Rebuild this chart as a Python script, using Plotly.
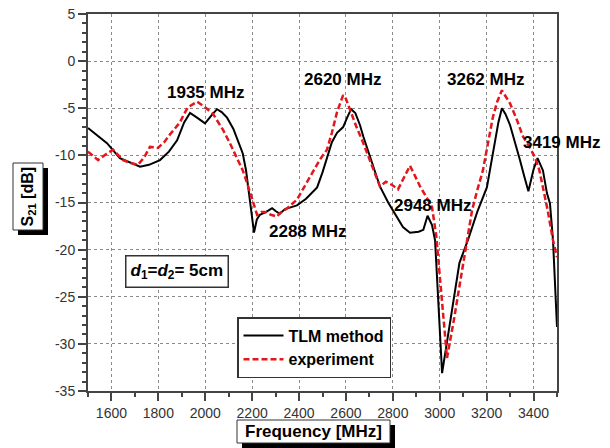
import plotly.graph_objects as go

# ---------------- data ----------------
tlm_freq = [1500, 1540, 1581, 1636, 1680, 1722, 1760, 1807, 1845, 1880, 1910, 1935,
            1965, 1999, 2025, 2050, 2070, 2093, 2120, 2140, 2160, 2174, 2191, 2208,
            2220, 2233, 2260, 2285, 2300, 2318, 2340, 2391, 2430, 2477, 2500, 2519,
            2540, 2562, 2588, 2605, 2622, 2640, 2660, 2674, 2703, 2745, 2780, 2817,
            2843, 2873, 2910, 2930, 2948, 2967, 2980, 3010, 3084, 3120, 3160, 3201,
            3227, 3250, 3265, 3280, 3300, 3320, 3342, 3360, 3378, 3400, 3417, 3440,
            3457, 3470, 3483, 3500]
tlm_s21 = [-7.1, -7.9, -8.7, -10.3, -10.8, -11.2, -11.0, -10.5, -9.6, -8.4, -6.5, -5.5,
           -6.0, -6.6, -5.8, -5.1, -5.4, -6.0, -7.2, -8.4, -9.8, -11.6, -14.7, -18.2,
           -16.8, -16.3, -16.0, -15.6, -15.9, -16.2, -15.7, -15.3, -14.6, -13.4, -11.8, -10.2,
           -8.6, -7.6, -7.0, -6.0, -5.1, -5.5, -6.8, -8.0, -10.2, -13.3, -15.0, -16.6,
           -17.6, -18.2, -18.1, -17.9, -16.4, -17.4, -19.0, -33.1, -21.4, -19.0, -16.0, -13.4,
           -9.8, -6.5, -5.0, -5.6, -6.8, -8.5, -10.5, -12.2, -13.8, -11.5, -10.3, -11.6,
           -14.0, -15.1, -19.0, -28.2]

exp_freq = [1500, 1520, 1543, 1575, 1607, 1630, 1650, 1680, 1713, 1740, 1764, 1798,
            1825, 1849, 1870, 1892, 1910, 1926, 1965, 1999, 2033, 2055, 2076, 2105,
            2135, 2160, 2178, 2199, 2221, 2240, 2255, 2280, 2306, 2319, 2350, 2391,
            2430, 2459, 2490, 2519, 2540, 2562, 2588, 2600, 2617, 2645, 2674, 2710,
            2745, 2770, 2794, 2822, 2845, 2873, 2895, 2916, 2945, 2967, 2985, 3031,
            3060, 3086, 3116, 3138, 3160, 3184, 3205, 3227, 3245, 3265, 3280, 3300,
            3330, 3355, 3380, 3406, 3425, 3440, 3460, 3483, 3500]
exp_s21 = [-9.6, -10.0, -10.5, -9.9, -9.4, -10.0, -10.5, -10.8, -11.0, -10.2, -9.1, -9.2,
           -8.6, -7.8, -7.2, -6.5, -5.6, -4.9, -4.3, -4.9, -5.6, -6.4, -7.3, -8.7,
           -10.2, -11.6, -12.9, -14.7, -16.3, -16.0, -16.0, -16.3, -16.5, -16.1, -15.6, -14.7,
           -13.0, -11.6, -10.4, -9.4, -7.6, -5.4, -3.6, -4.0, -5.2, -7.0, -8.7, -11.0,
           -13.3, -12.8, -13.1, -13.6, -12.4, -11.1, -12.2, -13.3, -14.5, -15.5, -18.5, -31.5,
           -27.5, -23.5, -19.0, -15.8, -13.7, -11.6, -8.8, -5.9, -4.3, -3.1, -3.7, -4.5,
           -6.3, -8.0, -9.0, -10.2, -11.6, -13.3, -15.8, -19.0, -20.8]

peak_labels = ["1935 MHz", "2620 MHz", "3262 MHz", "3419 MHz", "2288 MHz", "2948 MHz"]
peak_label_x = [1999, 2587, 3193, 3419, 2434, 2971]
peak_label_y = [-3.3, -1.9, -1.9, -8.6, -18.1, -15.3]

x_ticks = [1600, 1800, 2000, 2200, 2400, 2600, 2800, 3000, 3200, 3400]
y_ticks = [5, 0, -5, -10, -15, -20, -25, -30, -35]

FONT = "Liberation Sans, Arial, sans-serif"

# plot-area geometry in pixels (for boxed titles placed in paper coordinates)
L, R, T, B = 88, 557, 14, 391
def px(x):
    return (x - L) / (R - L)
def py(y):
    return (B - y) / (B - T)

fig = go.Figure()
fig.add_trace(go.Scatter(x=tlm_freq, y=tlm_s21, mode="lines", name="TLM method",
                         line=dict(color="black", width=2)))
fig.add_trace(go.Scatter(x=exp_freq, y=exp_s21, mode="lines", name="experiment",
                         line=dict(color="#e4161c", width=2.5, dash="6px,3px")))

annotations = []
for t, x, y in zip(peak_labels, peak_label_x, peak_label_y):
    a = dict(x=x, y=y, xref="x", yref="y", text="<b>%s</b>" % t, showarrow=False,
             xanchor="center", yanchor="middle",
             font=dict(family=FONT, size=17, color="black"))
    if t == "3419 MHz":
        a["xshift"] = 23
    annotations.append(a)

annotations.append(dict(x=1880, y=-22.3, xref="x", yref="y",
                        text="<b><i>d</i><sub>1</sub>=<i>d</i><sub>2</sub>= 5cm</b>",
                        showarrow=False, bgcolor="white", bordercolor="#333",
                        xanchor="center", yanchor="middle",
                        borderwidth=1.5, borderpad=4,
                        font=dict(family=FONT, size=17, color="black")))

# boxed axis titles with drop shadows
shapes = []
def boxed(x0, y0, x1, y1):
    shapes.append(dict(type="rect", xref="paper", yref="paper", layer="below",
                       x0=px(x0 + 5), x1=px(x1 + 5), y0=py(y0 + 5), y1=py(y1 + 5),
                       fillcolor="black", line=dict(width=0)))
    shapes.append(dict(type="rect", xref="paper", yref="paper", layer="below",
                       x0=px(x0), x1=px(x1), y0=py(y0), y1=py(y1),
                       fillcolor="white", line=dict(color="#333", width=1)))

boxed(237, 420, 390, 443)
boxed(13, 163, 43, 230)
annotations.append(dict(x=px(313.5), y=py(431.5), xref="paper", yref="paper",
                        xanchor="center", yanchor="middle",
                        text="<b>Frequency [MHz]</b>", showarrow=False,
                        font=dict(family=FONT, size=17, color="black")))
annotations.append(dict(x=px(28), y=py(196.5), xref="paper", yref="paper",
                        xanchor="center", yanchor="middle",
                        text="<b>S<sub>21</sub> [dB]</b>", showarrow=False, textangle=-90,
                        font=dict(family=FONT, size=16, color="black")))

axis_common = dict(showline=True, linecolor="#444", linewidth=2, mirror=True,
                   ticks="outside", ticklen=8, tickwidth=2, tickcolor="#444",
                   showgrid=True, gridcolor="#8a8a8a", gridwidth=1, griddash="dot",
                   zeroline=False, automargin=False,
                   tickfont=dict(family=FONT, size=14, color="#333"))

fig.update_layout(
    width=610, height=448,
    margin=dict(l=L, r=610 - R, t=T, b=448 - B, pad=0),
    paper_bgcolor="white", plot_bgcolor="white",
    showlegend=True,
    legend=dict(x=px(237), y=py(317), xanchor="left", yanchor="top",
                bgcolor="white", bordercolor="#333", borderwidth=1.5,
                font=dict(family=FONT, size=16, color="black", weight="bold"),
                itemwidth=40, tracegroupgap=0),
    xaxis=dict(range=[1500, 3500], tickmode="array", tickvals=x_ticks,
               ticktext=[str(v) for v in x_ticks],
               minor=dict(dtick=100, tick0=1500, ticks="outside", ticklen=4,
                          tickwidth=1.5, tickcolor="#444", showgrid=False),
               **axis_common),
    yaxis=dict(range=[-35, 5], tickmode="array", tickvals=y_ticks,
               ticktext=[str(v) for v in y_ticks],
               minor=dict(dtick=1, tick0=0, ticks="outside", ticklen=4,
                          tickwidth=1.5, tickcolor="#444", showgrid=False),
               **axis_common),
    annotations=annotations,
    shapes=shapes,
)

fig.write_html("out.html", config={"displayModeBar": False},
               post_script="document.body.style.margin='0';document.body.style.overflow='hidden';")
